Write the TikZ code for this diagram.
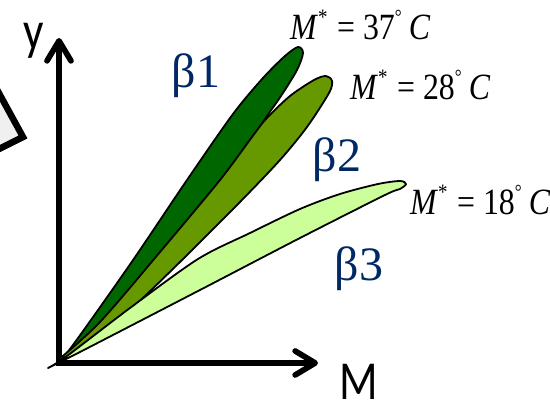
\documentclass[tikz,border=0pt]{standalone}
\usepackage{fontspec}
\setmainfont{Liberation Serif}
\newfontfamily\axisfont{Carlito}
\usetikzlibrary{arrows.meta}
\definecolor{leafA}{RGB}{0,102,0}
\definecolor{leafB}{RGB}{102,153,0}
\definecolor{leafC}{RGB}{204,255,153}
\definecolor{betablue}{RGB}{0,40,100}
\definecolor{boxgray}{RGB}{240,240,240}
\newcommand\mstarlabel[1]{\scalebox{0.86}[1]{\textit{M}\raisebox{0.42em}{\fontsize{22}{22}\selectfont *}\hspace{0.3em}=\hspace{0.25em}#1\raisebox{0.45em}{\fontsize{20}{20}\selectfont °}\hspace{0.22em}\textit{C}}}
\begin{document}
\begin{tikzpicture}[x=1pt,y=-1pt,
  leaf/.style={draw=black, line width=1.8pt, line join=round},
  axis/.style={line width=5.7pt, line join=miter,
    {Straight Barb[length=20pt,width=24pt,round]}-{Straight Barb[length=20pt,width=24pt,round]}},
  betalbl/.style={text=betablue, font=\fontsize{48}{52}\selectfont, inner sep=0pt, anchor=base},
  mlbl/.style={font=\fontsize{37}{40}\selectfont, inner sep=0pt, anchor=base west},
  axlbl/.style={font=\axisfont\fontsize{55}{58}\selectfont, inner sep=0pt, anchor=base, text depth=0pt}]
\useasboundingbox (0,0) rectangle (550,406);
\clip (0,0) rectangle (550,406);
% partial box at left
\draw[line width=6.5pt, fill=boxgray, line join=miter] (-17,64) -- (23,137) -- (-17,157) -- (-57,84) -- cycle;
% axes
\coordinate (ytip) at (59,38);
\coordinate (corner) at (59,363);
\coordinate (xtip) at (318,363);
\draw[axis] (ytip) -- (corner) -- (xtip);
% leaf beta1
\filldraw[leaf, fill=leafA] plot[smooth, tension=0.5] coordinates {
  (57,361) (70,349) (131,263) (187,180) (233,114) (263,78) (285,56) (298,47) (303,53)
  (297,70) (281,96) (263,122) (240,160) (200,215) (130,300) (57,361)} -- cycle;
% leaf beta2
\filldraw[leaf, fill=leafB] plot[smooth, tension=0.5] coordinates {
  (57,361) (100,322) (160,252) (220,180) (252,137) (266,119) (290,96) (314,80) (326,76) (332,81)
  (329,93) (307,127) (280,160) (240,202) (180,262) (127,313) (90,344) (57,361)} -- cycle;
% leaf beta3
\filldraw[leaf, fill=leafC] plot[smooth, tension=0.5] coordinates {
  (48,368) (67,356) (130,308) (198,259) (250,233) (300,209) (340,194) (378,184) (400,181) (406,184)
  (400,189) (385,195) (300,238) (200,290) (80,352) (48,368)} -- cycle;
% labels
\node[axlbl] (ylabel) at (34,50) {\scalebox{0.82}[1]{y}};
\node[axlbl] (mlabel) at (359,400) {\scalebox{0.82}[1]{M}};
\node[betalbl] (b1) at (196,88) {β1};
\node[betalbl] (b2) at (337,172) {β2};
\node[betalbl] (b3) at (359,281) {β3};
\node[mlbl] (m37) at (290,40) {\mstarlabel{37}};
\node[mlbl] (m28) at (350,100) {\mstarlabel{28}};
\node[mlbl] (m18) at (410,215) {\mstarlabel{18}};
\end{tikzpicture}
\end{document}
